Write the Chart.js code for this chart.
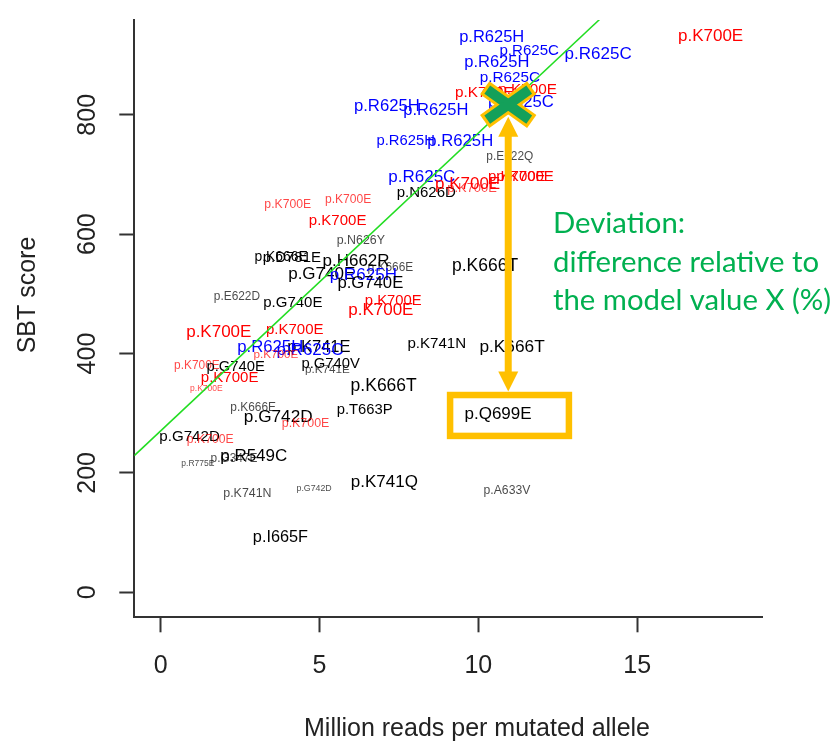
<!DOCTYPE html>
<html>
<head>
<meta charset="utf-8">
<script src="https://cdn.jsdelivr.net/npm/chart.js@4.4.1/dist/chart.umd.min.js"></script>
<style>
  html, body { margin: 0; padding: 0; background: #fff; }
  #wrap { width: 837px; height: 750px; }
</style>
</head>
<body>
<div id="wrap"><canvas id="sbtChart" width="837" height="750"></canvas></div>
<script>
// one entry per sample: mutation, reads (millions), SBT score, label size (cex)
const mutations = [
  'p.R625H', 'p.R625C', 'p.R625C', 'p.R625H', 'p.R625C', 'p.K700E', 'p.K700E', 'p.R625C',
  'p.R625H', 'p.R625H', 'p.R625H', 'p.R625H', 'p.E622Q', 'p.R625C', 'p.N626D', 'p.K700E',
  'p.K700E', 'p.K700E', 'p.K700E', 'p.K700E', 'p.K700E', 'p.K700E', 'p.K700E', 'p.N626Y',
  'p.K666E', 'p.D781E', 'p.H662R', 'p.K666E', 'p.G740E', 'p.R625H', 'p.G740E', 'p.E622D',
  'p.G740E', 'p.K700E', 'p.K700E', 'p.K700E', 'p.K700E', 'p.K741E', 'p.R625H', 'p.R625C',
  'p.K700E', 'p.K700E', 'p.G740E', 'p.G740V', 'p.K741E', 'p.K700E', 'p.K700E', 'p.K741N',
  'p.K666T', 'p.K666T', 'p.K666T', 'p.T663P', 'p.K666E', 'p.G742D', 'p.K700E', 'p.G742D',
  'p.K700E', 'p.G347E', 'p.R775E', 'p.R549C', 'p.K741N', 'p.G742D', 'p.K741Q', 'p.I665F',
  'p.A633V', 'p.Q699E'
];
const readsMillions = [
  10.42, 11.60, 13.77, 10.58, 10.99, 10.19, 11.55, 11.34,
  7.12, 8.66, 7.71, 9.43, 10.99, 8.22, 8.36, 9.66,
  9.80, 11.21, 11.47, 17.31, 4.00, 5.90, 5.57, 6.30,
  3.79, 4.13, 6.15, 7.23, 5.07, 6.38, 6.60, 2.40,
  4.16, 7.32, 6.93, 1.83, 4.22, 4.98, 3.45, 4.70,
  3.63, 1.14, 2.36, 5.35, 5.25, 2.17, 1.44, 8.69,
  7.02, 10.21, 11.06, 6.42, 2.91, 3.70, 4.56, 0.91,
  1.56, 2.31, 1.17, 2.93, 2.73, 4.83, 7.04, 3.77,
  10.90, 10.62
];
const sbtScores = [
  929, 907, 902, 887, 862, 837, 842, 821,
  814, 807, 756, 755, 730, 696, 669, 684,
  676, 696, 696, 932, 650, 658, 622, 589,
  562, 560, 554, 544, 532, 531, 518, 495,
  485, 489, 472, 435, 440, 411, 410, 406,
  398, 380, 377, 382, 372, 360, 342, 417,
  346, 547, 410, 306, 309, 294, 283, 260,
  255, 224, 215, 227, 165, 173, 184, 92,
  170, 299
];
const labelCex = [
  0.97, 0.89, 1.0, 0.97, 0.9, 0.9, 0.9, 0.98,
  0.98, 0.97, 0.87, 0.98, 0.7, 1.0, 0.88, 1.0,
  0.76, 0.88, 0.88, 1.0, 0.72, 0.71, 0.88, 0.73,
  0.82, 0.88, 1.0, 0.7, 1.0, 1.0, 0.98, 0.7,
  0.88, 0.87, 1.0, 1.0, 0.88, 0.97, 0.98, 1.0,
  0.69, 0.7, 0.87, 0.87, 0.69, 0.88, 0.5, 0.89,
  1.03, 1.03, 1.02, 0.87, 0.7, 1.01, 0.73, 0.89,
  0.72, 0.7, 0.5, 1.0, 0.73, 0.52, 1.0, 0.96,
  0.72, 1.0
];

const xTicks = [0, 5, 10, 15];
const yTicks = [0, 200, 400, 600, 800];

// regression line ends
const fitX = [-0.83, 13.82];
const fitY = [229, 960];

// model value X and the outlier it is compared with
const modelPoint = { x: 10.94, y: 817 };
const outlierBox = { x0: 9.11, x1: 12.85, yLow: 262, yHigh: 330.5 };

const noteLines = ['Deviation:', 'difference relative to', 'the model value X (%)'];

function labelColor(name) {
  if (name.startsWith('p.R625')) return '#0000FF';
  if (name === 'p.K700E') return '#FF0000';
  return '#000000';
}

const mutationLabels = {
  id: 'mutationLabels',
  beforeDatasetsDraw(chart) {
    const ctx = chart.ctx;
    const area = chart.chartArea;
    const meta = chart.getDatasetMeta(0);
    ctx.save();
    ctx.beginPath();
    ctx.rect(area.left, area.top, area.right - area.left, area.bottom - area.top);
    ctx.clip();
    ctx.textAlign = 'center';
    ctx.textBaseline = 'middle';
    meta.data.forEach((pt, i) => {
      const cex = labelCex[i];
      ctx.globalAlpha = cex < 0.8 ? 0.72 : 1;
      ctx.fillStyle = labelColor(mutations[i]);
      ctx.font = (17 * cex).toFixed(1) + 'px "Liberation Sans", Arial, sans-serif';
      ctx.fillText(mutations[i], pt.x, pt.y);
    });
    ctx.restore();
  }
};

const annotations = {
  id: 'annotations',
  afterDraw(chart) {
    const ctx = chart.ctx;
    const xs = chart.scales.x, ys = chart.scales.y;
    const orange = '#FFC000';
    ctx.save();

    // box round the outlier
    const bx0 = xs.getPixelForValue(outlierBox.x0), bx1 = xs.getPixelForValue(outlierBox.x1);
    const byTop = ys.getPixelForValue(outlierBox.yHigh), byBot = ys.getPixelForValue(outlierBox.yLow);
    ctx.strokeStyle = orange;
    ctx.lineWidth = 6.5;
    ctx.strokeRect(bx0, byTop, bx1 - bx0, byBot - byTop);

    // double arrow from model value down to the box
    const mx = xs.getPixelForValue(modelPoint.x), my = ys.getPixelForValue(modelPoint.y);
    const tipTop = my + 12, tipBot = byTop - 3.5, head = 20, half = 10;
    ctx.fillStyle = orange;
    ctx.fillRect(mx - 3.5, tipTop + head - 1, 7, (tipBot - head) - (tipTop + head) + 2);
    ctx.beginPath();
    ctx.moveTo(mx, tipTop); ctx.lineTo(mx - half, tipTop + head); ctx.lineTo(mx + half, tipTop + head);
    ctx.closePath(); ctx.fill();
    ctx.beginPath();
    ctx.moveTo(mx, tipBot); ctx.lineTo(mx - half, tipBot - head); ctx.lineTo(mx + half, tipBot - head);
    ctx.closePath(); ctx.fill();

    // X marker
    const w = 21, h = 15;
    const arms = [[-w, -h, w, h], [-w, h, w, -h]];
    ctx.lineCap = 'butt';
    ctx.strokeStyle = orange;
    ctx.lineWidth = 16;
    arms.forEach(a => {
      const k = 1.12;
      ctx.beginPath(); ctx.moveTo(mx + a[0] * k, my + a[1] * k); ctx.lineTo(mx + a[2] * k, my + a[3] * k); ctx.stroke();
    });
    ctx.strokeStyle = '#14A05A';
    ctx.lineWidth = 10;
    arms.forEach(a => {
      ctx.beginPath(); ctx.moveTo(mx + a[0], my + a[1]); ctx.lineTo(mx + a[2], my + a[3]); ctx.stroke();
    });

    // note text
    ctx.fillStyle = '#00B050';
    ctx.textAlign = 'left';
    ctx.textBaseline = 'alphabetic';
    ctx.font = '28px Lato, "Open Sans", sans-serif';
    const fit = 28 * 266 / ctx.measureText(noteLines[1]).width;
    ctx.font = fit.toFixed(1) + 'px Lato, "Open Sans", sans-serif';
    [233, 272, 310].forEach((y, i) => ctx.fillText(noteLines[i], 553, y));

    // axis titles
    ctx.fillStyle = '#222';
    ctx.font = '25px "Liberation Sans", Arial, sans-serif';
    ctx.textAlign = 'center';
    ctx.fillText('Million reads per mutated allele', 477, 736);
    ctx.translate(35, 295);
    ctx.rotate(-Math.PI / 2);
    ctx.fillText('SBT score', 0, 0);
    ctx.restore();
  }
};

const axisLine = '#333333';
const tickFont = { family: '"Liberation Sans", Arial, sans-serif', size: 25 };

new Chart(document.getElementById('sbtChart'), {
  type: 'scatter',
  data: {
    datasets: [
      {
        label: 'samples',
        data: mutations.map((m, i) => ({ x: readsMillions[i], y: sbtScores[i] })),
        pointRadius: 0,
        pointHoverRadius: 0
      },
      {
        label: 'fit',
        data: fitX.map((x, i) => ({ x: x, y: fitY[i] })),
        showLine: true,
        borderColor: '#22DD22',
        borderWidth: 1.5,
        pointRadius: 0,
        pointHoverRadius: 0
      }
    ]
  },
  options: {
    responsive: false,
    animation: false,
    events: [],
    layout: { padding: { left: 0, top: 20, right: 74.3, bottom: 0 } },
    plugins: { legend: { display: false }, tooltip: { enabled: false } },
    scales: {
      x: {
        type: 'linear',
        min: -0.83,
        max: 18.95,
        afterBuildTicks: (s) => { s.ticks = xTicks.map(v => ({ value: v })); },
        afterFit: (s) => { s.height = 132.7; s.paddingLeft = 0; s.paddingRight = 0; },
        grid: { drawOnChartArea: false, drawTicks: true, tickLength: 15, tickColor: axisLine, tickWidth: 2 },
        border: { display: true, color: axisLine, width: 2 },
        ticks: { font: tickFont, color: '#222', padding: 19, maxRotation: 0, autoSkip: false }
      },
      y: {
        type: 'linear',
        min: -41.9,
        max: 958.8,
        afterBuildTicks: (s) => { s.ticks = yTicks.map(v => ({ value: v })); },
        afterFit: (s) => { s.width = 134.3; s.paddingTop = 0; s.paddingBottom = 0; },
        grid: { drawOnChartArea: false, drawTicks: true, tickLength: 15, tickColor: axisLine, tickWidth: 2 },
        border: { display: true, color: axisLine, width: 2 },
        ticks: { font: tickFont, color: '#222', padding: 10, minRotation: 90, maxRotation: 90, crossAlign: 'center', autoSkip: false }
      }
    }
  },
  plugins: [mutationLabels, annotations]
});
</script>
</body>
</html>
